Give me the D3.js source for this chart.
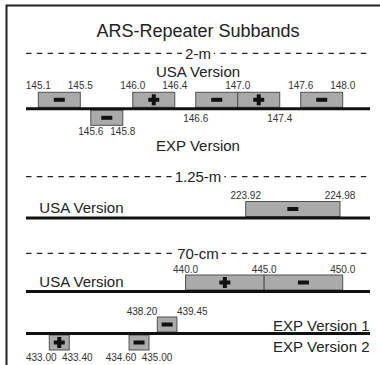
<!DOCTYPE html>
<html><head><meta charset="utf-8">
<script src="https://cdn.jsdelivr.net/npm/d3@7"></script>
<style>body{margin:0;background:#fff}svg{display:block;font-family:Arial,"Liberation Sans",sans-serif}</style>
</head><body><svg width="380" height="365"></svg>
<script>
// subbands in MHz, s = repeater offset sign
var usa2m = [{lo:145.1,hi:145.5,s:"-"},{lo:146.0,hi:146.4,s:"+"},{lo:146.6,hi:147.0,s:"-"},{lo:147.0,hi:147.4,s:"+"},{lo:147.6,hi:148.0,s:"-"}];
var usa2mTop = [145.1,145.5,146.0,146.4,147.0,147.6,148.0];
var usa2mBottom = [146.6,147.4];
var exp2m = [{lo:145.6,hi:145.8,s:"-"}];
var usa125 = [{lo:223.92,hi:224.98,s:"-"}];
var usa70 = [{lo:440.0,hi:445.0,s:"+"},{lo:445.0,hi:450.0,s:"-"}];
var usa70Top = [440.0,445.0,450.0];
var exp70v1 = [{lo:438.20,hi:439.45,s:"-"}];
var exp70v2 = [{lo:433.00,hi:433.40,s:"+"},{lo:434.60,hi:435.00,s:"-"}];
var bandNames = ["2-m","1.25-m","70-cm"];

var svg = d3.select("svg");
var left = 26, right = 370, mid = 198, bh = 15;
var f1 = d3.format(".1f"), f2 = d3.format(".2f");

var x2m = d3.scaleLinear().domain([145.1,148.0]).range([38.3,342.7]);
var x125 = d3.scaleLinear().domain([223.92,224.98]).range([245.7,340]);
var x70 = d3.scaleLinear().domain([438.2,450]).range([157.3,342.7]);
var x70b = d3.scaleLinear().domain([433.0,435.0]).range([49.3,149]);

// frame (right and bottom edge fall outside the picture)
svg.append("rect").attr("x",6.5).attr("y",5.5).attr("width",420).attr("height",420)
  .attr("fill","none").attr("stroke","#222").attr("stroke-width",2);

svg.append("text").attr("x",mid).attr("y",36.5).attr("text-anchor","middle")
  .attr("font-size",18).attr("fill","#222").text("ARS-Repeater Subbands");

function header(name, y) {
  svg.append("line").attr("x1",left).attr("x2",right).attr("y1",y).attr("y2",y)
    .attr("stroke","#222").attr("stroke-width",1.3).attr("stroke-dasharray","5.5,5.3");
  var bg = svg.append("rect").attr("fill","#fff");
  var t = svg.append("text").attr("x",mid).attr("y",y+5.3).attr("text-anchor","middle")
    .attr("font-size",15).attr("fill","#222").text(name);
  var bb = t.node().getBBox();
  bg.attr("x",bb.x-3).attr("y",y-3).attr("width",bb.width+6).attr("height",6);
}

function baseline(y) {
  svg.append("line").attr("x1",left).attr("x2",right).attr("y1",y).attr("y2",y)
    .attr("stroke","#111").attr("stroke-width",3);
}

function label(txt, x, y, anchor, size) {
  svg.append("text").attr("x",x).attr("y",y).attr("text-anchor",anchor||"start")
    .attr("font-size",size||15).attr("fill","#222").text(txt);
}

function boxes(data, x, top, minW) {
  var b = svg.append("g").selectAll("g").data(data).enter().append("g")
    .attr("transform", function(d) { return "translate(" + x(d.lo) + "," + top + ")"; });
  b.append("rect")
    .attr("width", function(d) { return Math.max(x(d.hi) - x(d.lo), minW || 0); })
    .attr("height", bh).attr("fill","#aaa").attr("stroke","#505050").attr("stroke-width",1);
  b.each(function(d) {
    var w = Math.max(x(d.hi) - x(d.lo), minW || 0), g = d3.select(this);
    g.append("rect").attr("x",w/2-5.5).attr("y",bh/2-2).attr("width",11).attr("height",4).attr("fill","#111");
    if (d.s == "+")
      g.append("rect").attr("x",w/2-2).attr("y",bh/2-5.5).attr("width",4).attr("height",11).attr("fill","#111");
  });
}

function ticks(vals, x, y, fmt, anchor, dx) {
  svg.append("g").selectAll("text").data(vals).enter().append("text")
    .attr("x", function(d) { return x(d) + (dx || 0); }).attr("y", y)
    .attr("text-anchor", anchor || "middle").attr("font-size",10).attr("fill","#333")
    .text(fmt);
}

// 2-m
header(bandNames[0], 53.3);
label("USA Version", mid, 76.7, "middle");
var y2 = 108.8;
boxes(usa2m, x2m, y2 - 1.5 - bh);
boxes(exp2m, x2m, y2 + 1.5, 32);
baseline(y2);
ticks(usa2mTop, x2m, 88.5, f1);
ticks(usa2mBottom, x2m, 121.7, f1);
ticks([exp2m[0].lo], x2m, 134.7, f1);
ticks([exp2m[0].hi], function(v) { return x2m(exp2m[0].lo) + 32; }, 134.7, f1);
label("EXP Version", mid, 151, "middle");

// 1.25-m
header(bandNames[1], 176.7);
label("USA Version", 39.3, 213);
var y125 = 218;
boxes(usa125, x125, y125 - 1.5 - bh);
baseline(y125);
ticks([usa125[0].lo, usa125[0].hi], x125, 198.5, f2);

// 70-cm
header(bandNames[2], 253.3);
label("USA Version", 39.3, 286.7);
var y70 = 291.5;
boxes(usa70, x70, y70 - 1.5 - bh);
baseline(y70);
ticks(usa70Top, x70, 273, f1);

var yexp = 333.5;
boxes(exp70v1, x70, yexp - 1.5 - bh);
boxes(exp70v2, x70b, yexp + 1.5);
baseline(yexp);
ticks([exp70v1[0].lo], x70, 315, f2, "end");
ticks([exp70v1[0].hi], x70, 315, f2, "start");
ticks(exp70v2.map(function(d) { return d.lo; }), x70b, 360.7, f2, "middle", -8);
ticks(exp70v2.map(function(d) { return d.hi; }), x70b, 360.7, f2, "middle", 8);
label("EXP Version 1", 369.5, 331, "end");
label("EXP Version 2", 369.5, 351.5, "end");
</script>
</body></html>
